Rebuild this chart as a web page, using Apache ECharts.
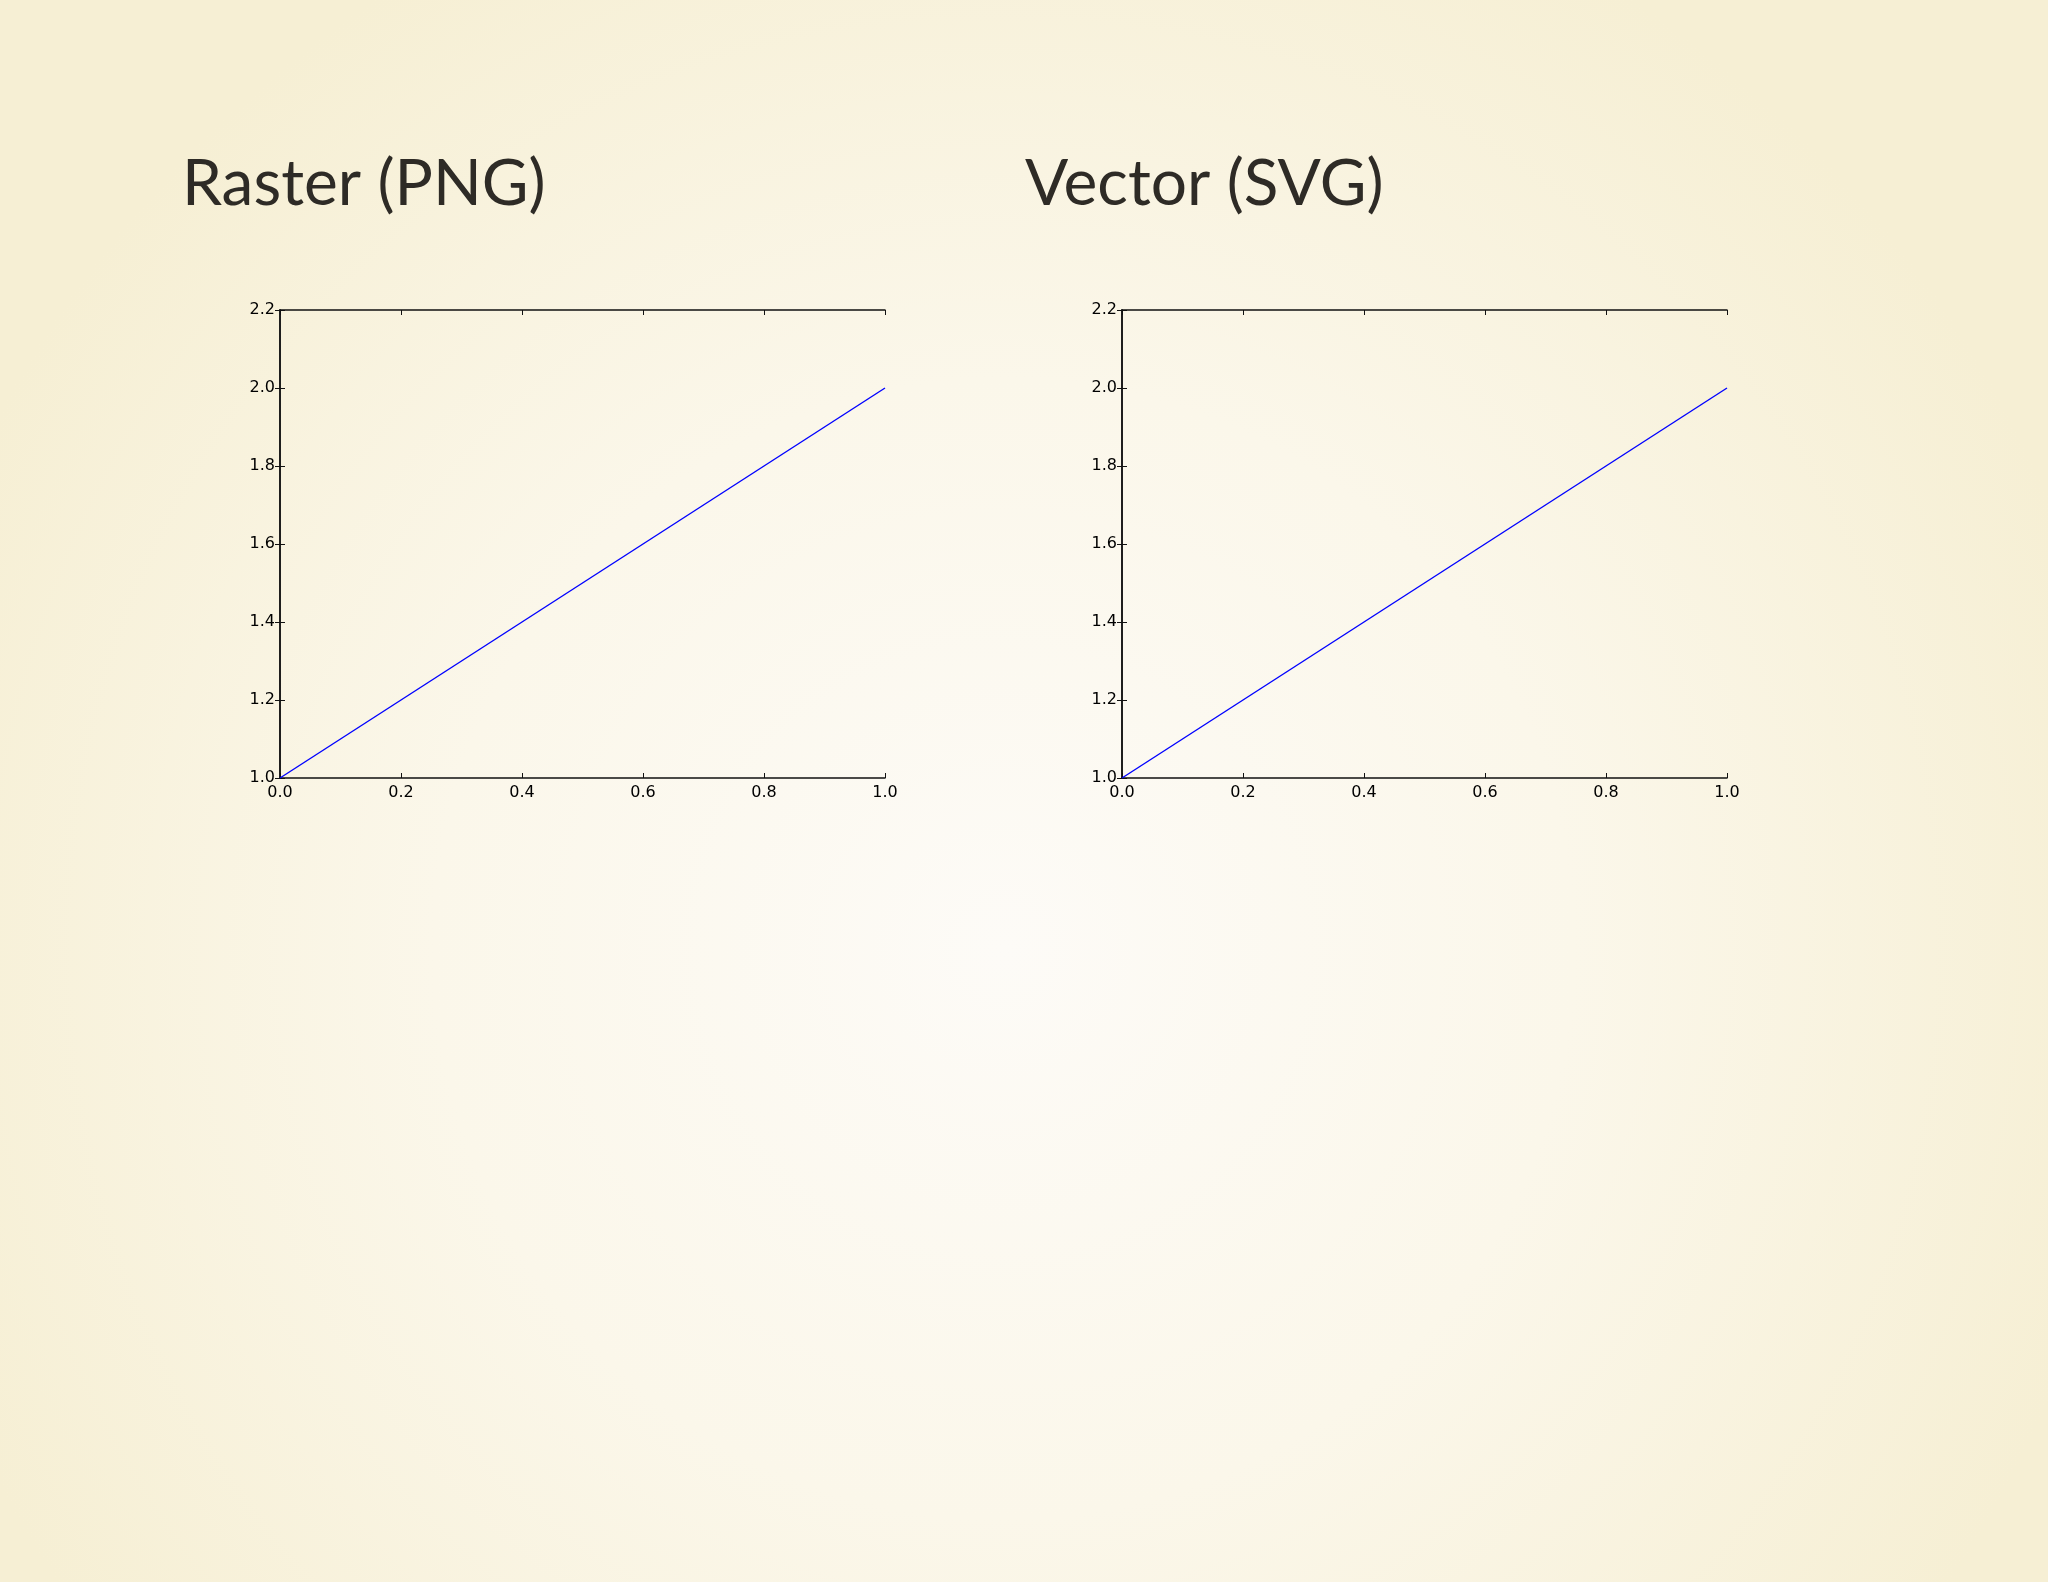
<!DOCTYPE html>
<html>
<head>
<meta charset="utf-8">
<script src="https://cdn.jsdelivr.net/npm/echarts@6/dist/echarts.min.js"></script>
<style>
html, body { margin: 0; padding: 0; }
#main { width: 2048px; height: 1582px; }
</style>
</head>
<body>
<div id="main"></div>
<script>
var panelTitles = ['Raster (PNG)', 'Vector (SVG)'];
var xValues = [0, 1];
var yValues = [1, 2];
var xTicks = ['0.0', '0.2', '0.4', '0.6', '0.8', '1.0'];
var yTicks = ['1.0', '1.2', '1.4', '1.6', '1.8', '2.0', '2.2'];

var grids = [
    {left: 280, top: 310, width: 605, height: 468},
    {left: 1122, top: 310, width: 605, height: 468}
];
var titleLeft = [177, 1020];

var lineData = xValues.map(function (x, i) { return [x, yValues[i]]; });

var axisLine = {lineStyle: {color: '#111', width: 1.5}};
var axisTick = {inside: true, length: 5, lineStyle: {color: '#111', width: 1}};
var labelFont = {color: '#000', fontFamily: 'DejaVu Sans', fontSize: 16};

var xAxis = [], yAxis = [], series = [], title = [];
grids.forEach(function (g, i) {
    title.push({
        text: panelTitles[i],
        left: titleLeft[i],
        top: 147,
        textStyle: {fontFamily: 'Lato', fontWeight: 'normal', fontSize: 64, color: '#2e2b26'}
    });
    ['bottom', 'top'].forEach(function (pos) {
        xAxis.push({
            type: 'value', gridIndex: i, position: pos, min: 0, max: 1, interval: 0.2,
            axisLine: axisLine, axisTick: axisTick, splitLine: {show: false},
            axisLabel: pos === 'bottom' ? Object.assign({
                margin: 7,
                formatter: function (v) { return xTicks[Math.round(v * 5)]; }
            }, labelFont) : {show: false}
        });
    });
    ['left', 'right'].forEach(function (pos) {
        yAxis.push({
            type: 'value', gridIndex: i, position: pos, min: 1, max: 2.2, interval: 0.2,
            axisLine: axisLine, axisTick: axisTick, splitLine: {show: false},
            axisLabel: pos === 'left' ? Object.assign({
                margin: 5,
                formatter: function (v) { return yTicks[Math.round((v - 1) * 5)]; }
            }, labelFont) : {show: false}
        });
    });
    series.push({
        type: 'line',
        xAxisIndex: i * 2,
        yAxisIndex: i * 2,
        data: lineData,
        showSymbol: false,
        lineStyle: {color: '#0000ff', width: 1.4},
        animation: false
    });
});

var myChart = echarts.init(document.getElementById('main'));
myChart.setOption({
    backgroundColor: {
        type: 'radial', x: 0.49, y: 0.6, r: 0.72,
        colorStops: [
            {offset: 0, color: '#fdfbf7'},
            {offset: 0.5, color: '#fbf7ea'},
            {offset: 1, color: '#f6efd4'}
        ]
    },
    animation: false,
    title: title,
    grid: grids,
    xAxis: xAxis,
    yAxis: yAxis,
    series: series
});
</script>
</body>
</html>
